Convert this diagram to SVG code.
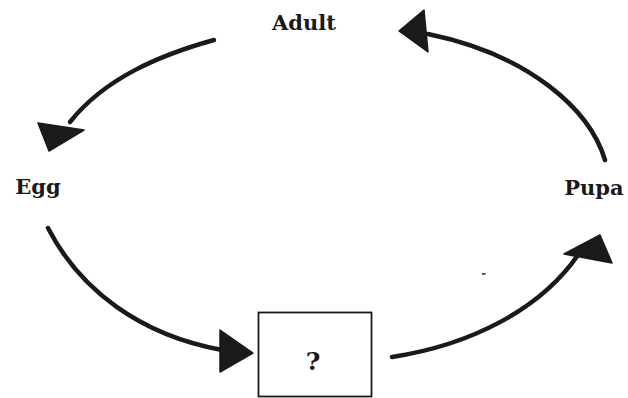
<svg xmlns="http://www.w3.org/2000/svg" width="628" height="398" viewBox="0 0 628 398">
<style>
.lbl{font-family:"DejaVu Serif","Liberation Serif",serif;font-weight:bold;font-size:21px;fill:#1a1a1a}
.ln{fill:none;stroke:#1a1a1a;stroke-width:4.5;stroke-linecap:round}
.hd{fill:#1a1a1a;stroke:#1a1a1a;stroke-width:1.5;stroke-linejoin:round}
</style>
<rect width="628" height="398" fill="#fff"/>
<g id="adult"><text class="lbl" x="304" y="30" text-anchor="middle">Adult</text></g>
<g id="egg"><text class="lbl" x="38" y="194" text-anchor="middle">Egg</text></g>
<g id="pupa"><text class="lbl" x="594" y="195" text-anchor="middle">Pupa</text></g>
<g id="unknown">
<rect x="258.5" y="312.5" width="113" height="84" fill="#fff" stroke="#1a1a1a" stroke-width="1.8"/>
<text class="lbl" x="313" y="370" text-anchor="middle" style="font-size:25px">?</text>
</g>
<g id="connectors">
<path class="ln" d="M214,40 C160,55 105,78 70,122"/>
<polygon class="hd" points="38,123 84,130 49,151"/>
<path class="ln" d="M48,228 C80,290 140,335 222,350"/>
<polygon class="hd" points="220,330 220,372 253,353"/>
<path class="ln" d="M392,357 C470,345 540,310 578,255"/>
<polygon class="hd" points="564,254 600,235 612,263"/>
<path class="ln" d="M605,160 C590,110 530,55 428,34"/>
<polygon class="hd" points="399,31 424,10 428,52"/>
</g>
<rect x="482" y="273" width="3.5" height="1.8" fill="#444"/>
</svg>
